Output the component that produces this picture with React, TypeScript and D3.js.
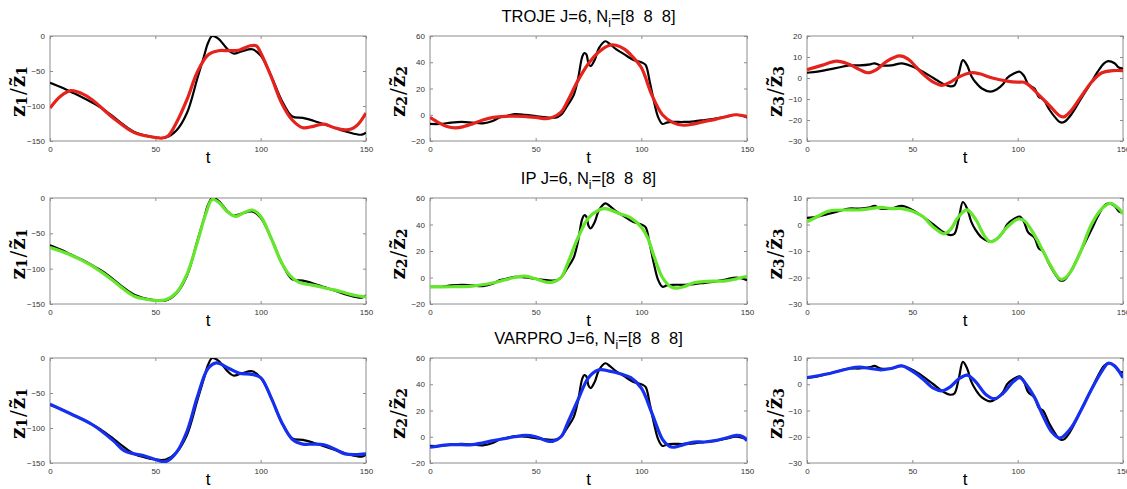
import React, { useRef, useEffect } from "react";
import * as d3 from "d3";

// Ground truth curves (black), one per component
const z1True = [[0,-67],[5,-73],[10,-80],[15,-87],[20,-95],[25,-104],[30,-115],[35,-127],[40,-137],[45,-142],[50,-145],[55,-145],[60,-135],[65,-110],[70,-60],[73,-30],[75,-10],[77,0],[80,-4],[84,-18],[87,-25],[91,-22],[96,-19],[100,-28],[105,-57],[110,-92],[115,-115],[120,-117],[125,-121],[130,-126],[135,-131],[140,-136],[145,-140],[148,-141],[150,-138]];
const z2True = [[0,-7],[5,-7],[10,-6],[15,-5.5],[20,-6],[25,-6.5],[30,-4.5],[33,-2],[36,-1],[40,0.5],[45,0],[50,-1],[55,-2],[60,-2],[62,0],[65,7],[68,15],[70,27],[72,44],[73,47],[74,46],[75,39],[76,37],[78,42],[80,51],[83,56],[85,54],[88,50],[92,46],[96,42],[100,40],[102,38],[104,25],[106,10],[108,-2],[110,-7],[112,-6],[115,-5.5],[120,-5.5],[125,-5],[130,-4],[135,-3],[140,-1.5],[145,0],[150,-2]];
const z3True = [[0,2.5],[5,3],[10,4],[15,5],[20,6],[25,6],[30,6.5],[32,7],[35,6],[40,6],[45,7],[50,5.5],[55,3],[60,0],[65,-3],[68,-4],[70,-3.5],[72,2],[74,8.5],[76,6],[78,1],[80,-2],[83,-5],[87,-6.5],[90,-5.5],[93,-3],[95,0],[98,2],[101,3],[103,1],[105,-3],[108,-5],[110,-9],[112,-10],[115,-15],[118,-19],[120,-21],[122,-21],[125,-18],[130,-10],[135,-2],[138,3],[141,7],[143,8],[146,7],[148,5],[150,4.5]];

// TROJE fits (red)
const z1Troje = [[0,-103],[5,-86],[10,-78],[15,-82],[20,-91],[30,-117],[40,-138],[50,-145],[53,-146],[56,-143],[60,-124],[65,-91],[70,-51],[75,-27],[80,-21],[85,-21],[90,-20],[95,-14],[98,-14],[100,-24],[105,-58],[110,-96],[115,-120],[120,-131],[125,-129],[130,-126],[135,-131],[140,-134],[143,-133],[146,-127],[150,-110]];
const z2Troje = [[0,-2],[4,-6],[8,-9],[12,-10],[16,-9],[20,-7],[25,-4],[30,-2],[40,-1],[50,-2],[55,-3],[58,-2],[62,2],[65,10],[70,26],[75,39],[80,48],[85,53],[88,53],[92,50],[96,44],[100,36],[105,15],[110,0],[115,-6],[120,-8],[125,-7],[130,-5],[135,-3.5],[140,-1.5],[145,0],[150,-1.5]];
const z3Troje = [[0,4],[7,6],[14,8],[20,6.5],[25,4],[29,2.5],[33,4],[38,8],[44,10.5],[48,9],[52,5],[56,1],[60,-2],[64,-3.5],[68,-2],[72,0.5],[78,2.5],[82,2],[88,0],[95,-1.5],[100,-2],[103,-2],[106,-4],[110,-8],[115,-13],[120,-18],[122,-18.5],[125,-16],[130,-9],[135,-2],[140,2.5],[145,3.5],[150,3.5]];

// IP fits (green)
const z1Ip = [[0,-70],[5,-75],[10,-81],[15,-88],[20,-96],[25,-106],[30,-117],[35,-129],[40,-139],[45,-143],[50,-145],[55,-144],[60,-134],[65,-108],[70,-62],[74,-22],[77,-2],[80,-6],[84,-19],[88,-26],[92,-21],[96,-17],[100,-26],[105,-57],[110,-92],[114,-110],[118,-119],[122,-122],[126,-124],[130,-127],[135,-130],[140,-134],[145,-138],[150,-140]];
const z2Ip = [[0,-7],[10,-7],[20,-6.5],[30,-4],[40,0],[45,1],[50,-1],[55,-3.5],[58,-3.5],[62,0],[65,10],[70,30],[75,45],[80,51],[83,52],[90,48],[95,45],[100,38],[103,30],[106,16],[110,0],[114,-7],[117,-8],[120,-7],[125,-4],[130,-3],[140,-2.5],[145,-1],[150,1]];
const z3Ip = [[0,1],[5,3],[10,5],[20,5.5],[25,5.5],[30,6],[35,6.5],[40,6],[45,6],[50,5],[55,3],[60,-1],[65,-3.5],[68,-2],[72,3],[76,5.5],[80,2],[84,-4],[87,-6.5],[90,-5.5],[95,-1],[100,2],[103,1.5],[108,-4],[112,-10],[116,-16],[120,-20.5],[122,-20.5],[125,-18],[130,-10],[135,0],[140,6],[144,8],[148,6],[150,4]];

// VARPRO fits (blue)
const z1Varpro = [[0,-66],[10,-80],[20,-95],[30,-118],[35,-132],[40,-137],[45,-140],[50,-145],[55,-148],[60,-135],[65,-105],[70,-55],[75,-15],[79,-7],[85,-15],[90,-22],[95,-23],[100,-28],[105,-57],[110,-92],[115,-116],[120,-123],[125,-123],[130,-124],[135,-130],[140,-137],[145,-138],[150,-137]];
const z2Varpro = [[0,-8],[10,-6],[20,-6],[30,-3],[40,0],[45,1],[50,0],[55,-3],[58,-3.5],[62,0],[65,10],[70,28],[75,45],[80,51],[85,50],[90,48],[95,45],[100,37],[105,18],[110,-2],[113,-7],[115,-8],[120,-6],[125,-4],[130,-4],[135,-3],[140,-1],[145,1],[148,0],[150,-3]];
const z3Varpro = [[0,2.5],[10,4],[20,6],[25,6.5],[30,6],[35,5.5],[40,6],[45,7],[50,5],[55,2],[60,-1.5],[64,-2.5],[68,-1],[72,2],[76,3.5],[80,1],[85,-4],[89,-5.5],[93,-3.5],[98,1],[101,2.5],[104,0],[108,-5],[112,-12],[116,-18],[120,-20.5],[125,-17],[130,-10],[135,-2],[140,5],[143,8],[146,7],[150,2.5]];

const methods = ["TROJE", "IP", "VARPRO"];
const methodColors = ["#e5221b", "#63e62b", "#1630ef"];
const truths = [z1True, z2True, z3True];
const fits = [
  [z1Troje, z2Troje, z3Troje],
  [z1Ip, z2Ip, z3Ip],
  [z1Varpro, z2Varpro, z3Varpro],
];
const yDomains = [
  [[-150, 0], [-20, 60], [-30, 20]],
  [[-150, 0], [-20, 60], [-30, 10]],
  [[-150, 0], [-20, 60], [-30, 10]],
];
const yTickSteps = [50, 20, 10];
const xTicks = [0, 50, 100, 150];

const W = 1127;
const H = 489;
const colX = [[50, 366], [430, 747], [807, 1123]];
const rowY = [[36, 141], [198, 304], [358, 463]];

export default function App() {
  const svgRef = useRef(null);

  useEffect(() => {
    document.body.style.margin = "0";
    const svg = d3.select(svgRef.current);
    svg.selectAll("*").remove();

    const defs = svg.append("defs");

    methods.forEach((m, r) => {
      const [top, bottom] = rowY[r];

      // title over the middle column
      const cx = (colX[1][0] + colX[1][1]) / 2;
      const title = svg.append("text")
        .attr("x", cx)
        .attr("y", top - 14)
        .attr("text-anchor", "middle")
        .attr("font-family", "Liberation Sans, Arial, sans-serif")
        .attr("font-size", 16.5)
        .attr("fill", "#000")
        .style("white-space", "pre");
      title.append("tspan").text(`${m} J=6, N`);
      title.append("tspan").attr("font-size", 12).attr("dy", 5).text("i");
      title.append("tspan").attr("dy", -5).text("=[8  8  8]");

      for (let c = 0; c < 3; c++) {
        const [left, right] = colX[c];
        const [y0, y1] = yDomains[r][c];
        const x = d3.scaleLinear().domain([0, 150]).range([left, right]);
        const y = d3.scaleLinear().domain([y0, y1]).range([bottom, top]);
        const yTicks = d3.range(y0, y1 + 0.001, yTickSteps[c]);

        const clipId = `clip-${r}-${c}`;
        defs.append("clipPath").attr("id", clipId)
          .append("rect")
          .attr("x", left).attr("y", top)
          .attr("width", right - left).attr("height", bottom - top);

        const line = d3.line()
          .x((d) => x(d[0]))
          .y((d) => y(d[1]))
          .curve(d3.curveCatmullRom.alpha(0.5));

        const g = svg.append("g");

        // box
        g.append("rect")
          .attr("x", left).attr("y", top)
          .attr("width", right - left).attr("height", bottom - top)
          .attr("fill", "#fff")
          .attr("stroke", "#8c8c8c")
          .attr("stroke-width", 1);

        const styleAxis = (sel, showText) => {
          sel.select(".domain").remove();
          sel.selectAll("line").attr("stroke", "#8c8c8c");
          sel.selectAll("text")
            .attr("fill", "#333")
            .attr("font-size", 8)
            .attr("font-family", "Liberation Sans, Arial, sans-serif");
          if (!showText) sel.selectAll("text").remove();
        };

        g.append("g").attr("transform", `translate(0,${bottom})`)
          .call(d3.axisBottom(x).tickValues(xTicks).tickSize(-3).tickPadding(5))
          .call((s) => styleAxis(s, true));
        g.append("g").attr("transform", `translate(0,${top})`)
          .call(d3.axisTop(x).tickValues(xTicks).tickSize(-3))
          .call((s) => styleAxis(s, false));
        g.append("g").attr("transform", `translate(${left},0)`)
          .call(d3.axisLeft(y).tickValues(yTicks).tickSize(-3).tickPadding(5))
          .call((s) => styleAxis(s, true));
        g.append("g").attr("transform", `translate(${right},0)`)
          .call(d3.axisRight(y).tickValues(yTicks).tickSize(-3))
          .call((s) => styleAxis(s, false));

        const lines = g.append("g").attr("clip-path", `url(#${clipId})`);
        lines.append("path")
          .attr("d", line(truths[c]))
          .attr("fill", "none")
          .attr("stroke", "#000")
          .attr("stroke-width", 2.2);
        lines.append("path")
          .attr("d", line(fits[r][c]))
          .attr("fill", "none")
          .attr("stroke", methodColors[r])
          .attr("stroke-width", 3.2);

        // x label
        g.append("text")
          .attr("x", (left + right) / 2)
          .attr("y", bottom + 22)
          .attr("text-anchor", "middle")
          .attr("font-family", "Liberation Sans, Arial, sans-serif")
          .attr("font-size", 17)
          .text("t");

        // y label z_i / z~_i
        const lx = left - 25;
        const ly = (top + bottom) / 2 + 3;
        const lab = g.append("text")
          .attr("transform", `translate(${lx},${ly}) rotate(-90)`)
          .attr("text-anchor", "middle")
          .attr("font-family", "DejaVu Serif, serif")
          .attr("font-weight", "bold")
          .attr("font-size", 20)
          .attr("fill", "#000");
        lab.append("tspan").text("z");
        lab.append("tspan").attr("font-size", 14).attr("dy", 2).text(`${c + 1}`);
        lab.append("tspan").attr("dy", -2).attr("dx", 1).attr("font-weight", "normal").text("/");
        lab.append("tspan").attr("dx", 1).text("z\u0303");
        lab.append("tspan").attr("font-size", 14).attr("dy", 2).text(`${c + 1}`);
      }
    });
  }, []);

  return <svg ref={svgRef} width={W} height={H} style={{ display: "block", background: "#fff" }} />;
}
